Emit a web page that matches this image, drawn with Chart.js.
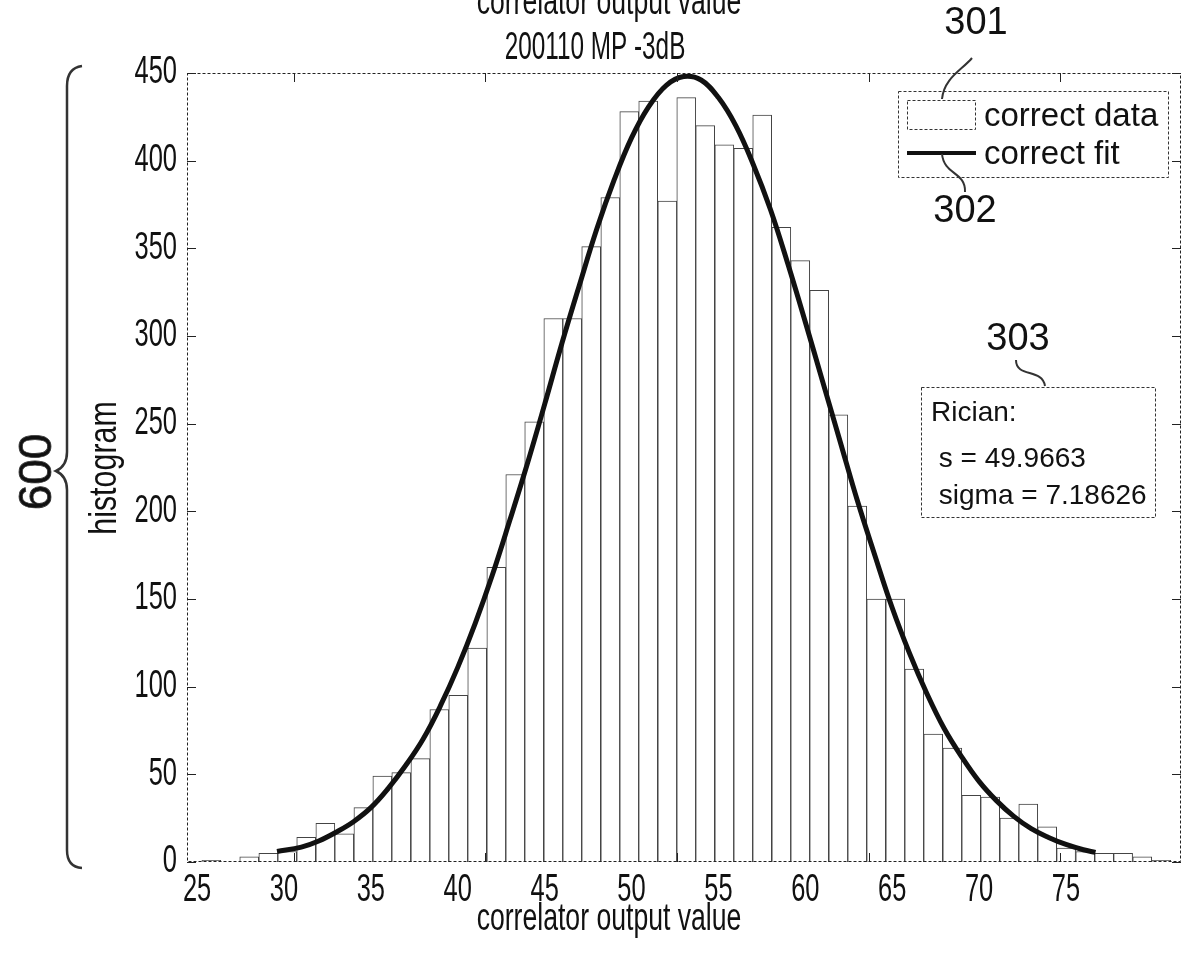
<!DOCTYPE html>
<html>
<head>
<meta charset="utf-8">
<script src="https://cdn.jsdelivr.net/npm/chart.js@4.4.1/dist/chart.umd.min.js"></script>
<style>
  html, body { margin: 0; padding: 0; background: #fff; }
  canvas { display: block; }
</style>
</head>
<body>
<canvas id="hist-chart" width="1182" height="953"></canvas>
<script>
// histogram bins (centre of each bar) and counts
const binCenters = [25.82, 26.91, 28.0, 29.1, 30.19, 31.28, 32.38, 33.47, 34.57, 35.66,
  36.75, 37.85, 38.94, 40.03, 41.12, 42.22, 43.31, 44.4, 45.5, 46.59,
  47.68, 48.78, 49.87, 50.96, 52.06, 53.15, 54.24, 55.34, 56.43, 57.52,
  58.62, 59.71, 60.8, 61.9, 62.99, 64.08, 65.18, 66.27, 67.36, 68.46,
  69.55, 70.64, 71.74, 72.83, 73.92, 75.01, 76.11, 77.2, 78.29, 79.39, 80.48];
const binCounts = [1, 0, 3, 5, 6, 14, 22, 16, 31, 49,
  51, 59, 87, 95, 122, 168, 221, 251, 310, 310,
  351, 379, 428, 434, 377, 436, 420, 409, 407, 426,
  362, 343, 326, 255, 203, 150, 150, 110, 73, 65,
  38, 37, 25, 33, 20, 8, 6, 5, 5, 3, 1];

// fitted curve, sampled from the figure
const fitX = [29.6, 31, 32, 33, 34, 35, 36, 37, 38, 39, 40, 41, 42, 43, 44, 45, 46, 47, 48, 49,
  50, 51, 52, 53, 54, 55, 56, 57, 58, 59, 60, 61, 62, 63, 64, 65, 66, 67, 68, 69,
  70, 71, 72, 73, 74, 75, 76, 76.7];
const fitY = [6, 8.5, 12, 17, 23, 31, 42, 55, 70, 89, 111, 136, 164, 195, 227, 261, 296, 329, 361, 389,
  413, 431, 443, 448, 446, 436, 420, 398, 372, 341, 308, 274, 240, 206, 175, 145, 119, 96, 76, 60,
  46, 35, 26, 19, 14, 10, 7, 5.5];

const xTickLabels = [25, 30, 35, 40, 45, 50, 55, 60, 65, 70, 75];
const yTickLabels = [0, 50, 100, 150, 200, 250, 300, 350, 400, 450];
const frameTicks = [30.58, 41.57, 52.62, 63.67, 74.66];
const statsLines = ["Rician:", " s = 49.9663", " sigma = 7.18626"];

const ARIAL = "'Liberation Sans', Arial, Helvetica, sans-serif";

// matlab-ish condensed text
function matText(ctx, s, px, py, align, rot, base, sx) {
  ctx.save();
  ctx.translate(px, py);
  if (rot) ctx.rotate(rot);
  ctx.scale(sx || 0.67, 1);
  ctx.font = "38px " + ARIAL;
  ctx.textAlign = align;
  ctx.textBaseline = base || "middle";
  ctx.fillStyle = "#111";
  ctx.fillText(s, 0, 0);
  ctx.restore();
}

function seg(ctx, x1, y1, x2, y2) {
  ctx.beginPath();
  ctx.moveTo(x1, y1);
  ctx.lineTo(x2, y2);
  ctx.stroke();
}

const decor = {
  id: "figureDecor",
  afterDraw(chart) {
    const { ctx, chartArea: a, scales: { x, y } } = chart;
    ctx.save();

    // axes box + inward ticks
    ctx.strokeStyle = "#222";
    ctx.lineWidth = 1;
    ctx.setLineDash([3, 2]);
    ctx.strokeRect(a.left + 0.5, a.top + 0.5, a.width - 1, a.height - 1);
    ctx.setLineDash([]);
    yTickLabels.forEach((v) => {
      const py = Math.round(y.getPixelForValue(v)) + 0.5;
      seg(ctx, a.left, py, a.left + 9, py);
      seg(ctx, a.right - 9, py, a.right, py);
    });
    frameTicks.forEach((v) => {
      const px = Math.round(x.getPixelForValue(v)) + 0.5;
      seg(ctx, px, a.top, px, a.top + 9);
      seg(ctx, px, a.bottom - 9, px, a.bottom);
    });

    // tick labels
    yTickLabels.forEach((v) => matText(ctx, String(v), 177, y.getPixelForValue(v), "right"));
    xTickLabels.forEach((v) => matText(ctx, String(v), x.getPixelForValue(v), 891, "center"));

    // titles
    matText(ctx, "correlator output value", 609, 14, "center", 0, "alphabetic", 0.7);
    matText(ctx, "200110 MP -3dB", 595, 49, "center", 0, "middle", 0.64);
    matText(ctx, "correlator output value", 609, 920, "center", 0, "middle", 0.7);
    matText(ctx, "histogram", 106, 468, "center", -Math.PI / 2, "middle", 0.8);

    // legend
    ctx.setLineDash([3, 2]);
    ctx.strokeStyle = "#333";
    ctx.fillStyle = "#fff";
    ctx.fillRect(898, 91, 270, 86);
    ctx.strokeRect(898.5, 91.5, 270, 86);
    ctx.strokeRect(907.5, 100.5, 68, 29);
    ctx.setLineDash([]);
    ctx.strokeStyle = "#111";
    ctx.lineWidth = 4;
    seg(ctx, 907, 153, 976, 153);
    ctx.fillStyle = "#111";
    ctx.font = "33px " + ARIAL;
    ctx.textAlign = "left";
    ctx.textBaseline = "alphabetic";
    ctx.fillText(chart.data.datasets[1].label, 984, 126);
    ctx.fillText(chart.data.datasets[0].label, 984, 164);

    // stats box
    ctx.lineWidth = 1;
    ctx.strokeStyle = "#333";
    ctx.setLineDash([3, 2]);
    ctx.fillStyle = "#fff";
    ctx.fillRect(921, 387, 234, 130);
    ctx.strokeRect(921.5, 387.5, 234, 130);
    ctx.setLineDash([]);
    ctx.fillStyle = "#111";
    ctx.font = "28px " + ARIAL;
    [421, 467, 504].forEach((by, i) => ctx.fillText(statsLines[i], 931, by));

    // reference numerals and leader lines
    ctx.font = "38px " + ARIAL;
    ctx.textAlign = "center";
    ctx.textBaseline = "middle";
    ctx.fillText("301", 976, 24);
    ctx.fillText("302", 965, 212);
    ctx.fillText("303", 1018, 340);
    ctx.lineWidth = 2;
    ctx.beginPath();
    ctx.moveTo(972, 58);
    ctx.bezierCurveTo(962, 70, 944, 78, 942, 99);
    ctx.stroke();
    ctx.beginPath();
    ctx.moveTo(942, 154);
    ctx.bezierCurveTo(944, 175, 966, 172, 965, 192);
    ctx.stroke();
    ctx.beginPath();
    ctx.moveTo(1016, 360);
    ctx.bezierCurveTo(1016, 378, 1042, 368, 1045, 386);
    ctx.stroke();

    // brace + 600
    ctx.lineWidth = 2.5;
    ctx.beginPath();
    ctx.moveTo(82, 66);
    ctx.quadraticCurveTo(67, 68, 67, 86);
    ctx.lineTo(67, 452);
    ctx.quadraticCurveTo(67, 466, 56, 471);
    ctx.quadraticCurveTo(67, 476, 67, 490);
    ctx.lineTo(67, 850);
    ctx.quadraticCurveTo(67, 867, 82, 868);
    ctx.stroke();
    ctx.save();
    ctx.translate(38, 472);
    ctx.rotate(-Math.PI / 2);
    ctx.font = "46px " + ARIAL;
    ctx.lineWidth = 0.8;
    ctx.fillText("600", 0, 0);
    ctx.strokeText("600", 0, 0);
    ctx.restore();

    ctx.restore();
  },
};

new Chart(document.getElementById("hist-chart"), {
  type: "bar",
  data: {
    datasets: [
      {
        type: "line",
        label: "correct fit",
        data: fitX.map((v, i) => ({ x: v, y: fitY[i] })),
        borderColor: "#111",
        borderWidth: 5,
        pointRadius: 0,
        tension: 0.4,
        fill: false,
        order: 0,
      },
      {
        type: "bar",
        label: "correct data",
        data: binCenters.map((v, i) => ({ x: v, y: binCounts[i] })),
        backgroundColor: "#fff",
        borderColor: "#444",
        borderWidth: 1,
        barPercentage: 1,
        categoryPercentage: 1,
        order: 1,
      },
    ],
  },
  options: {
    responsive: false,
    animation: false,
    layout: { padding: { left: 187, top: 73, right: 1, bottom: 91 } },
    scales: {
      x: { type: "linear", min: 24.42, max: 81.62, offset: false, display: false },
      y: { min: 0, max: 450, display: false },
    },
    plugins: { legend: { display: false }, tooltip: { enabled: false } },
  },
  plugins: [decor],
});
</script>
</body>
</html>
